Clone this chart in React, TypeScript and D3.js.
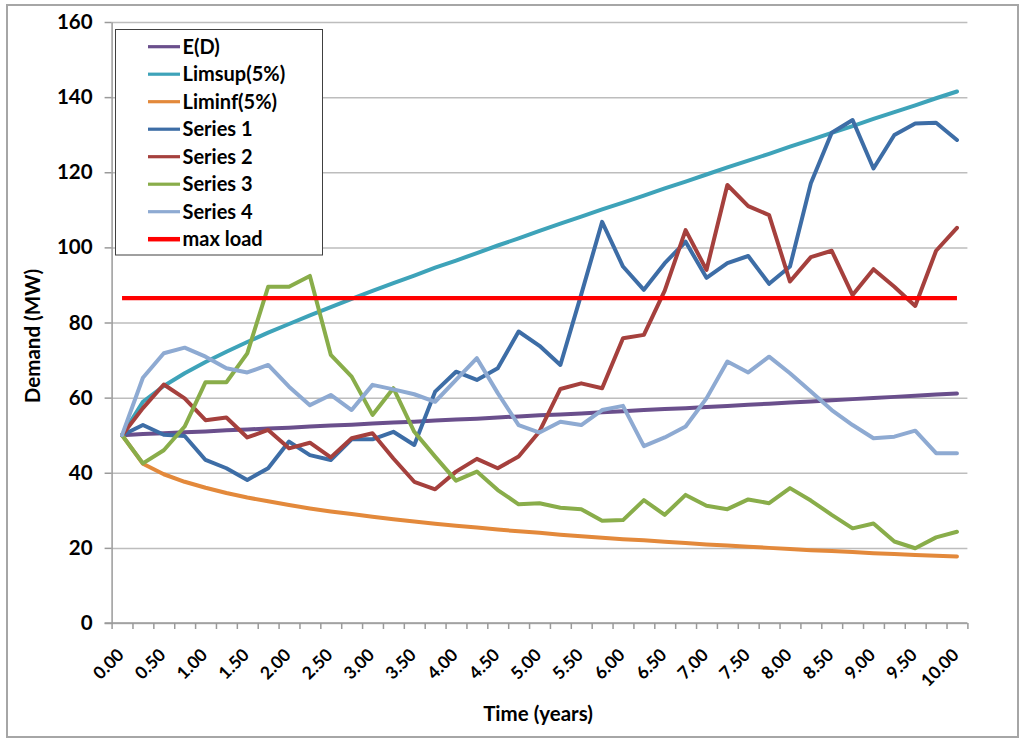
import React, { useEffect, useRef } from 'react';
import * as d3 from 'd3';

// time steps (years), one every quarter
const times = d3.range(0, 41).map(i => i * 0.25);
const xTickLabels = ['0.00', '0.50', '1.00', '1.50', '2.00', '2.50', '3.00', '3.50', '4.00', '4.50', '5.00',
  '5.50', '6.00', '6.50', '7.00', '7.50', '8.00', '8.50', '9.00', '9.50', '10.00'];
const yTicks = [0, 20, 40, 60, 80, 100, 120, 140, 160];

const expected = [50.0, 50.3, 50.5, 50.8, 51.0, 51.3, 51.5, 51.8, 52.0, 52.3, 52.6, 52.8, 53.1, 53.4, 53.6,
  53.9, 54.2, 54.4, 54.7, 55.0, 55.3, 55.5, 55.8, 56.1, 56.4, 56.7, 57.0, 57.2, 57.5, 57.8, 58.1, 58.4, 58.7,
  59.0, 59.3, 59.6, 59.9, 60.2, 60.5, 60.8, 61.1];
const limSup = [50.0, 58.9, 63.1, 66.5, 69.5, 72.2, 74.8, 77.3, 79.6, 81.9, 84.1, 86.3, 88.4, 90.5, 92.5,
  94.6, 96.5, 98.5, 100.5, 102.4, 104.4, 106.3, 108.2, 110.1, 111.9, 113.8, 115.7, 117.5, 119.4, 121.3, 123.1,
  124.9, 126.8, 128.6, 130.5, 132.3, 134.2, 136.0, 137.8, 139.7, 141.5];
const limInf = [50.0, 42.4, 39.6, 37.6, 36.0, 34.6, 33.4, 32.4, 31.4, 30.5, 29.7, 29.0, 28.3, 27.6, 27.0,
  26.4, 25.9, 25.4, 24.9, 24.4, 24.0, 23.5, 23.1, 22.7, 22.3, 22.0, 21.6, 21.3, 20.9, 20.6, 20.3, 20.0, 19.7,
  19.4, 19.2, 18.9, 18.6, 18.4, 18.1, 17.9, 17.7];
const series1 = [50, 52.7, 50.1, 49.8, 43.4, 41.2, 38.1, 41.2, 48.3, 44.7, 43.4, 48.9, 48.9, 50.9, 47.4,
  61.6, 66.9, 64.7, 67.8, 77.6, 73.8, 68.7, 87.5, 106.8, 94.9, 88.7, 95.8, 101.5, 91.9, 95.8, 97.7, 90.3,
  94.9, 117.1, 130.5, 133.9, 121, 129.9, 133, 133.2, 128.6];
const series2 = [50, 57.2, 63.5, 59.8, 54, 54.7, 49.4, 51.4, 46.5, 48, 44.1, 49.2, 50.5, 43.8, 37.6, 35.6,
  40.3, 43.7, 41.2, 44.3, 51, 62.3, 63.8, 62.5, 75.8, 76.7, 88.5, 104.6, 94, 116.6, 111, 108.6, 90.9, 97.4,
  99.1, 87.3, 94.2, 89.5, 84.4, 99.1, 105.2];
const series3 = [50, 42.5, 46, 52.3, 64.1, 64.1, 71.8, 89.5, 89.5, 92.4, 71.4, 65.6, 55.4, 62.5, 50.9,
  44.3, 37.9, 40.3, 35.4, 31.6, 31.9, 30.7, 30.3, 27.2, 27.4, 32.7, 28.8, 34.1, 31.2, 30.3, 32.9, 31.9,
  35.9, 32.6, 28.8, 25.2, 26.5, 21.7, 19.9, 22.8, 24.3];
const series4 = [50, 65.3, 71.8, 73.3, 70.9, 67.8, 66.7, 68.7, 62.9, 58, 60.7, 56.7, 63.4, 62.2, 60.9,
  58.9, 64.7, 70.5, 61.2, 52.7, 50.7, 53.6, 52.7, 56.7, 57.8, 47.1, 49.4, 52.3, 59.8, 69.6, 66.7, 70.9,
  66.5, 61.6, 56.7, 52.7, 49.2, 49.6, 51.2, 45.2, 45.2];
const maxLoad = 86.5;

const lines = [
  { name: 'E(D)', values: expected, color: '#6a4f8c' },
  { name: 'Limsup(5%)', values: limSup, color: '#3ea3b9' },
  { name: 'Liminf(5%)', values: limInf, color: '#e3893b' },
  { name: 'Series 1', values: series1, color: '#3d6da6' },
  { name: 'Series 2', values: series2, color: '#a5403d' },
  { name: 'Series 3', values: series3, color: '#89ad4a' },
  { name: 'Series 4', values: series4, color: '#8eaad2' },
];

const FONT = "Lato, 'Open Sans', sans-serif";

export default function App() {
  const svgRef = useRef<SVGSVGElement>(null);

  useEffect(() => {
    if (!svgRef.current) return;
    const svg = d3.select(svgRef.current);
    svg.selectAll('*').remove();

    const plot = { left: 111.6, right: 967.4, top: 22, bottom: 623 };
    const step = (plot.right - plot.left) / times.length;

    const x = d3.scaleLinear()
      .domain([0, 10])
      .range([plot.left + step / 2, plot.right - step / 2]);
    const y = d3.scaleLinear().domain([0, 160]).range([plot.bottom, plot.top]);

    svg.append('rect')
      .attr('x', 7).attr('y', 5).attr('width', 1011).attr('height', 732)
      .attr('fill', '#fff').attr('stroke', '#a6a6a6').attr('stroke-width', 2);

    // gridlines
    const grid = svg.append('g')
      .attr('transform', `translate(${plot.left},0)`)
      .call(d3.axisLeft(y).tickValues(yTicks).tickSize(-(plot.right - plot.left)).tickFormat(() => ''));
    grid.select('.domain').remove();
    grid.selectAll('line').attr('stroke', '#bdbdbd').attr('stroke-width', 1.5);

    // y axis
    const yAxis = svg.append('g')
      .attr('transform', `translate(${plot.left},0)`)
      .call(d3.axisLeft(y).tickValues(yTicks).tickSizeInner(7).tickSizeOuter(0).tickPadding(12));
    yAxis.select('.domain').attr('stroke', '#9a9a9a').attr('stroke-width', 1.5);
    yAxis.selectAll('line').attr('stroke', '#9a9a9a').attr('stroke-width', 1.5);
    yAxis.selectAll('text')
      .style('font-family', FONT).style('font-weight', 'bold').style('font-size', '20.5px').attr('fill', '#000');

    // x axis: ticks sit between the quarters
    const bounds = d3.range(0, times.length + 1).map(i => -0.125 + i * 0.25);
    const xAxis = svg.append('g')
      .attr('transform', `translate(0,${plot.bottom})`)
      .call(d3.axisBottom(x).tickValues(bounds).tickSizeInner(6).tickSizeOuter(0).tickFormat(() => ''));
    xAxis.select('.domain').attr('stroke', '#9a9a9a').attr('stroke-width', 1.5)
      .attr('d', `M${plot.left - 7},0H${plot.right}`);
    xAxis.selectAll('line').attr('stroke', '#9a9a9a').attr('stroke-width', 1.5);

    svg.append('g')
      .selectAll('text')
      .data(xTickLabels)
      .enter()
      .append('text')
      .attr('transform', (d, i) => `translate(${x(i * 0.5) + 3},656) rotate(-45)`)
      .attr('text-anchor', 'end')
      .style('font-family', FONT).style('font-weight', 'bold').style('font-size', '17.5px')
      .text(d => d);

    // axis titles
    svg.append('text')
      .attr('transform', `translate(40,336) rotate(-90)`)
      .attr('text-anchor', 'middle')
      .style('font-family', FONT).style('font-weight', 'bold').style('font-size', '20.5px')
      .text('Demand (MW)');
    svg.append('text')
      .attr('x', 538).attr('y', 721)
      .attr('text-anchor', 'middle')
      .style('font-family', FONT).style('font-weight', 'bold').style('font-size', '20.5px')
      .text('Time (years)');

    // series
    const line = d3.line<number>()
      .x((d, i) => x(times[i]))
      .y(d => y(d));

    svg.append('g')
      .selectAll('path')
      .data(lines)
      .enter()
      .append('path')
      .attr('d', d => line(d.values))
      .attr('fill', 'none')
      .attr('stroke', d => d.color)
      .attr('stroke-width', 4)
      .attr('stroke-linejoin', 'round')
      .attr('stroke-linecap', 'round');

    svg.append('line')
      .attr('x1', x(times[0])).attr('x2', x(times[times.length - 1]))
      .attr('y1', y(maxLoad)).attr('y2', y(maxLoad))
      .attr('stroke', '#ff0000').attr('stroke-width', 4.2);

    // legend
    const legend = svg.append('g');
    legend.append('rect')
      .attr('x', 115.5).attr('y', 29.5).attr('width', 207).attr('height', 225.5)
      .attr('fill', '#fff').attr('stroke', '#404040').attr('stroke-width', 1);
    const items = [...lines.map(l => ({ name: l.name, color: l.color, w: 3.2 })), { name: 'max load', color: '#ff0000', w: 4.5 }];
    const row = legend.selectAll('g.item')
      .data(items)
      .enter()
      .append('g')
      .attr('transform', (d, i) => `translate(0,${46.7 + i * 27.5})`);
    row.append('line')
      .attr('x1', 148).attr('x2', 180)
      .attr('stroke', d => d.color).attr('stroke-width', d => d.w);
    row.append('text')
      .attr('x', 182.5).attr('dy', '0.35em')
      .style('font-family', FONT).style('font-weight', 'bold').style('font-size', '20px')
      .text(d => d.name);
  }, []);

  return (
    <div style={{ position: 'absolute', left: 0, top: 0 }}>
      <svg ref={svgRef} width={1024} height={743} />
    </div>
  );
}
